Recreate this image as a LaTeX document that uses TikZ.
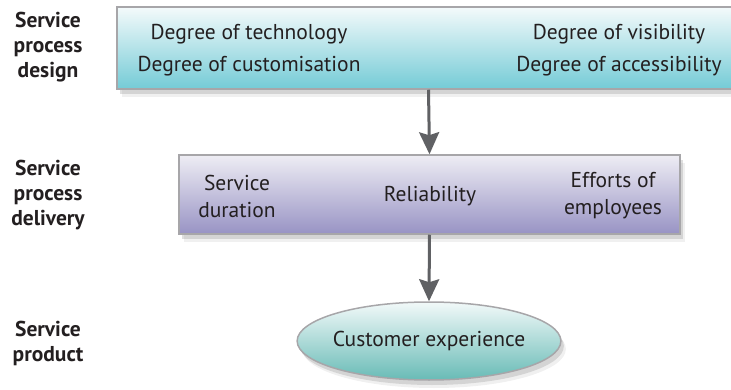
\documentclass[tikz,border=0pt]{standalone}
\usepackage{fontspec}
\setmainfont{PT Sans}
\usetikzlibrary{positioning, arrows.meta, shapes.geometric, shadows}

\definecolor{tealtop}{HTML}{F4FAFB}
\definecolor{tealbot}{HTML}{74CBD6}
\definecolor{lilactop}{HTML}{EEEDF4}
\definecolor{lilacbot}{HTML}{9893C4}
\definecolor{ovaltop}{HTML}{F2F9F9}
\definecolor{ovalbot}{HTML}{68BBB6}
\definecolor{edgegray}{HTML}{A7A6A9}
\definecolor{arrowgray}{HTML}{606164}
\definecolor{inkgray}{HTML}{231F20}

\begin{document}
\begin{tikzpicture}[
  x=1pt, y=-1pt,
  every node/.style={font=\fontsize{21.5}{27}\selectfont, text=inkgray},
  stage/.style={font=\bfseries\fontsize{21.5}{25}\selectfont, align=center},
  item/.style={align=center, inner sep=1pt},
  panel/.style={draw=edgegray, line width=1.5pt,
                drop shadow={shadow xshift=3pt, shadow yshift=-5pt, opacity=.25},
                drop shadow={shadow xshift=5pt, shadow yshift=-8pt, opacity=.12}},
  designbox/.style={panel, rectangle, top color=tealtop, bottom color=tealbot,
                    minimum width=623pt, minimum height=82pt},
  deliverybox/.style={panel, rectangle, top color=lilactop, bottom color=lilacbot,
                      minimum width=501pt, minimum height=79pt},
  productoval/.style={panel, ellipse, top color=ovaltop, bottom color=ovalbot,
                      minimum width=262pt, minimum height=78pt,
                      inner xsep=-3pt, inner ysep=0pt},
  arrow/.style={-{Stealth[length=22pt, width=20pt, inset=3pt]},
                line width=3pt, draw=arrowgray},
]

  \useasboundingbox (0,0) rectangle (731,390);

  % stage labels on the left
  \node[stage] (designlbl)   at (48,47)  {Service\\process\\design};
  \node[stage] (deliverylbl) at (48,195) {Service\\process\\delivery};
  \node[stage] (productlbl)  at (48,343) {Service\\product};

  % the three stages
  \node[designbox]   (design)   at (428.5,48)  {};
  \node[deliverybox] (delivery) at (429.5,194.5) {};
  \node[productoval] (product)  at (429,341)   {Customer experience};

  \node[item, anchor=base] (tech)   at (249,40) {Degree of technology};
  \node[item, anchor=base] (custom) at (249,72) {Degree of customisation};
  \node[item, anchor=base] (visib)  at (619,40) {Degree of visibility};
  \node[item, anchor=base] (access) at (619,72) {Degree of accessibility};

  \node[item] (duration) at (237,196) {Service\\duration};
  \node[item] (reliab)   at (430,196) {Reliability};
  \node[item] (efforts)  at (613,196) {Efforts of\\employees};

  \draw[arrow] (design.south)   -- (delivery.north);
  \draw[arrow] (delivery.south) -- (product.north);

\end{tikzpicture}
\end{document}
